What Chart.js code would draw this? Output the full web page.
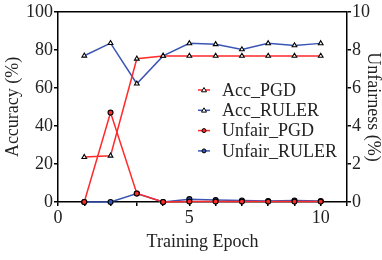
<!DOCTYPE html>
<html>
<head>
<meta charset="utf-8">
<script src="https://cdn.jsdelivr.net/npm/chart.js@4"></script>
<style>
  html, body { margin: 0; padding: 0; background: #fff; }
  #wrap { width: 382px; height: 260px; }
</style>
</head>
<body>
<div id="wrap"><canvas id="chart" width="382" height="260"></canvas></div>
<script>
// epochs and series
const epochs = [1, 2, 3, 4, 5, 6, 7, 8, 9, 10];
const accPGD = [23.6, 24.3, 75.3, 76.8, 76.8, 76.8, 76.8, 76.8, 76.8, 76.8];
const accRULER = [76.9, 83.5, 62.2, 76.8, 83.4, 82.9, 80.2, 83.4, 82.3, 83.4];
const unfairPGD = [0, 4.7, 0.45, 0, 0.02, 0.02, 0.02, 0.02, 0.02, 0.02];
const unfairRULER = [0, 0, 0.45, 0, 0.15, 0.1, 0.08, 0.05, 0.08, 0.05];
const xTickLabels = [0, 5, 10];

const RED = '#ff2a2a';
const BLUE = '#3a55b4';
const FONT = '"Liberation Serif", "DejaVu Serif", serif';

function pts(ys) {
  return ys.map((y, i) => ({ x: epochs[i], y: y }));
}

function ds(label, data, color, axis, style) {
  return {
    label: label,
    data: pts(data),
    yAxisID: axis,
    borderColor: color,
    borderWidth: 1.5,
    pointStyle: style,
    pointRadius: style === 'circle' ? 2.5 : 2.7,
    pointBorderColor: '#000',
    pointBorderWidth: 1.1,
    pointBackgroundColor: style === 'circle' ? color : '#fff',
    tension: 0,
    clip: false,
  };
}

const datasets = [
  ds('Acc_PGD', accPGD, RED, 'yL', 'triangle'),
  ds('Acc_RULER', accRULER, BLUE, 'yL', 'triangle'),
  ds('Unfair_PGD', unfairPGD, RED, 'yR', 'circle'),
  ds('Unfair_RULER', unfairRULER, BLUE, 'yR', 'circle'),
];

// legend + top frame line drawn by hand so it can sit inside the plot
const legendPlugin = {
  id: 'boxLegend',
  afterDraw(chart) {
    const ctx = chart.ctx;
    const a = chart.chartArea;
    ctx.save();
    ctx.strokeStyle = '#000';
    ctx.lineWidth = 1.5;
    ctx.beginPath();
    ctx.moveTo(a.left, a.top);
    ctx.lineTo(a.right, a.top);
    ctx.stroke();

    ctx.font = '18px ' + FONT;
    ctx.textBaseline = 'middle';
    datasets.forEach((d, i) => {
      const y = 90 + i * 20.3;
      ctx.strokeStyle = d.borderColor;
      ctx.lineWidth = 1.5;
      ctx.beginPath();
      ctx.moveTo(198, y);
      ctx.lineTo(210, y);
      ctx.stroke();
      ctx.strokeStyle = '#000';
      ctx.lineWidth = 1;
      ctx.fillStyle = d.pointBackgroundColor;
      ctx.beginPath();
      if (d.pointStyle === 'circle') {
        ctx.arc(204, y, 2, 0, Math.PI * 2);
      } else {
        ctx.moveTo(204, y - 2.5);
        ctx.lineTo(206.5, y + 1.8);
        ctx.lineTo(201.5, y + 1.8);
        ctx.closePath();
      }
      ctx.fill();
      ctx.stroke();
      ctx.fillStyle = '#222';
      ctx.fillText(d.label, 222, y + 1);
    });
    ctx.restore();
  },
};

const tickFont = { family: FONT, size: 18 };
const titleFont = { family: FONT, size: 18, lineHeight: 1 };
const gridOpts = {
  drawOnChartArea: false,
  drawTicks: true,
  tickLength: 4,
  color: '#000',
  tickColor: '#000',
  lineWidth: 1.5,
};
const borderOpts = { display: true, color: '#000', width: 1.5 };

new Chart(document.getElementById('chart').getContext('2d'), {
  type: 'line',
  data: { datasets: datasets },
  plugins: [legendPlugin],
  options: {
    responsive: false,
    animation: false,
    layout: { padding: { top: 11, right: 0, left: 0, bottom: 0 } },
    plugins: { legend: { display: false }, tooltip: { enabled: false } },
    scales: {
      x: {
        type: 'linear',
        min: 0,
        max: 11,
        grid: gridOpts,
        border: borderOpts,
        ticks: {
          stepSize: 1,
          autoSkip: false,
          maxRotation: 0,
          padding: 1,
          color: '#222',
          font: tickFont,
          callback: (v) => (xTickLabels.includes(v) ? String(v) : ''),
        },
        title: {
          display: true,
          text: 'Training Epoch',
          color: '#222',
          font: titleFont,
          padding: { top: 0, bottom: 9 },
        },
        afterFit: (s) => { s.height = 58; },
      },
      yL: {
        position: 'left',
        min: 0,
        max: 100,
        grid: gridOpts,
        border: borderOpts,
        ticks: { stepSize: 20, padding: 1, color: '#222', font: tickFont },
        title: {
          display: true,
          text: 'Accuracy (%)',
          color: '#222',
          font: titleFont,
          padding: { top: 4, bottom: 0 },
        },
        afterFit: (s) => { s.width = 58; },
      },
      yR: {
        position: 'right',
        min: 0,
        max: 10,
        grid: gridOpts,
        border: borderOpts,
        ticks: { stepSize: 2, padding: 1, color: '#222', font: tickFont },
        title: {
          display: true,
          text: 'Unfairness (%)',
          color: '#222',
          font: titleFont,
          padding: { top: 0, bottom: 0 },
        },
        afterFit: (s) => { s.width = 35; },
      },
    },
  },
});
</script>
</body>
</html>
